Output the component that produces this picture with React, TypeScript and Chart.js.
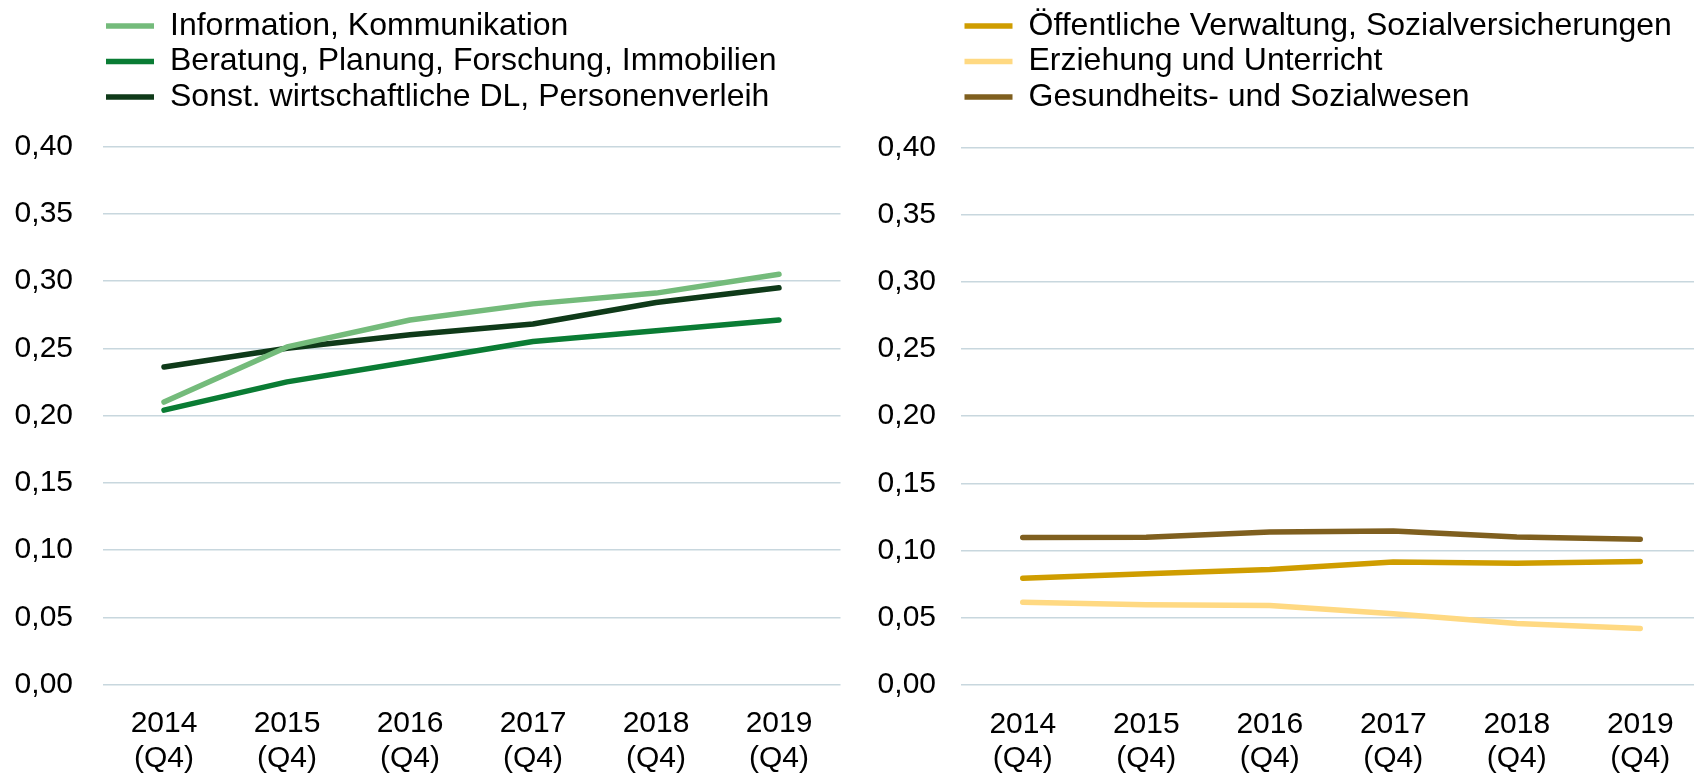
import React, { useEffect, useRef } from "react";
import { Chart, registerables } from "chart.js";

Chart.register(...registerables);

const categories: string[][] = [
  ["2014", "(Q4)"],
  ["2015", "(Q4)"],
  ["2016", "(Q4)"],
  ["2017", "(Q4)"],
  ["2018", "(Q4)"],
  ["2019", "(Q4)"],
];

const leftLabels = [
  "Information, Kommunikation",
  "Beratung, Planung, Forschung, Immobilien",
  "Sonst. wirtschaftliche DL, Personenverleih",
];
const infoKomm = [0.21, 0.251, 0.271, 0.283, 0.291, 0.305];
const beratung = [0.204, 0.225, 0.24, 0.255, 0.263, 0.271];
const sonstDL = [0.236, 0.25, 0.26, 0.268, 0.284, 0.295];

const rightLabels = [
  "Öffentliche Verwaltung, Sozialversicherungen",
  "Erziehung und Unterricht",
  "Gesundheits- und Sozialwesen",
];
const oeffVerw = [0.0795, 0.0827, 0.0859, 0.0916, 0.0906, 0.0918];
const erziehung = [0.0616, 0.0597, 0.0592, 0.053, 0.0458, 0.0421];
const gesundheit = [0.1097, 0.11, 0.1139, 0.1146, 0.1101, 0.1084];

const yTicks = { min: 0, max: 0.4, step: 0.05 };

const leftColors = ["#74bb7b", "#0a7c34", "#0f3a19"];
const rightColors = ["#cf9d00", "#ffd982", "#7f5f1f"];

const FONT = "'Liberation Sans', Arial, Helvetica, sans-serif";

type Cfg = {
  labels: string[];
  series: number[][];
  colors: string[];
  padRight: number;
  padTop: number;
  yAxisWidth: number;
  yTickPad: number;
  spacer: number;
  xAxisHeight: number;
};

function LineChart({ cfg, width, height }: { cfg: Cfg; width: number; height: number }) {
  const ref = useRef<HTMLCanvasElement | null>(null);
  useEffect(() => {
    if (!ref.current) return;
    const chart = new Chart(ref.current, {
      type: "line",
      data: {
        labels: categories,
        datasets: cfg.series.map((s, i) => ({
          label: cfg.labels[i],
          data: s,
          borderColor: cfg.colors[i],
          backgroundColor: cfg.colors[i],
          borderWidth: 5.5,
          borderCapStyle: "round",
          borderJoinStyle: "round",
          pointRadius: 0,
          pointHoverRadius: 0,
          pointStyle: "line",
          tension: 0,
          fill: false,
        })),
      },
      options: {
        responsive: false,
        animation: false,
        layout: {
          padding: { left: 0, right: cfg.padRight, top: cfg.padTop, bottom: 0 },
        },
        plugins: {
          tooltip: { enabled: false },
          legend: {
            display: true,
            position: "top",
            align: "start",
            fullSize: false,
            labels: {
              usePointStyle: true,
              pointStyle: "line",
              pointStyleWidth: 48,
              padding: 3.5,
              color: "#000",
              font: { family: FONT, size: 32, lineHeight: 1.1 },
            },
          },
          title: {
            display: true,
            text: "",
            weight: 500,
            padding: { top: cfg.spacer, bottom: 0 },
            font: { size: 10, lineHeight: 1 },
          } as any,
        },
        scales: {
          x: {
            offset: true,
            grid: { display: false, drawTicks: false },
            border: { display: false },
            ticks: {
              color: "#000",
              padding: 22,
              maxRotation: 0,
              autoSkip: false,
              font: { family: FONT, size: 30, lineHeight: 1.15 },
            },
            afterFit: (s: any) => {
              s.height = cfg.xAxisHeight;
            },
          },
          y: {
            min: yTicks.min,
            max: yTicks.max,
            grid: { color: "#c8d7de", lineWidth: 1.5, drawTicks: false },
            border: { display: false },
            ticks: {
              stepSize: yTicks.step,
              color: "#000",
              padding: cfg.yTickPad,
              font: { family: FONT, size: 30 },
              callback: (v: any) => Number(v).toFixed(2).replace(".", ","),
            },
            afterFit: (s: any) => {
              s.width = cfg.yAxisWidth;
            },
          },
        },
      } as any,
    });
    return () => chart.destroy();
  }, []);
  return (
    <canvas
      ref={ref}
      width={width}
      height={height}
      style={{ width: width + "px", height: height + "px", display: "block" }}
    />
  );
}

export default function App() {
  const leftCfg: Cfg = {
    labels: leftLabels,
    series: [infoKomm, beratung, sonstDL],
    colors: leftColors,
    padRight: 6.5,
    padTop: 6.5,
    yAxisWidth: 102.5,
    yTickPad: 29.5,
    spacer: 13.5,
    xAxisHeight: 91.5,
  };
  const rightCfg: Cfg = {
    labels: rightLabels,
    series: [oeffVerw, erziehung, gesundheit],
    colors: rightColors,
    padRight: 1,
    padTop: 6.5,
    yAxisWidth: 114,
    yTickPad: 25,
    spacer: 14.4,
    xAxisHeight: 91,
  };
  return (
    <div
      style={{
        position: "fixed",
        left: 0,
        top: 0,
        width: 1694,
        height: 776,
        overflow: "hidden",
        background: "#fff",
      }}
    >
      <div style={{ position: "absolute", left: 0, top: 0 }}>
        <LineChart cfg={leftCfg} width={847} height={776} />
      </div>
      <div style={{ position: "absolute", left: 847, top: 0 }}>
        <LineChart cfg={rightCfg} width={856} height={776} />
      </div>
    </div>
  );
}
